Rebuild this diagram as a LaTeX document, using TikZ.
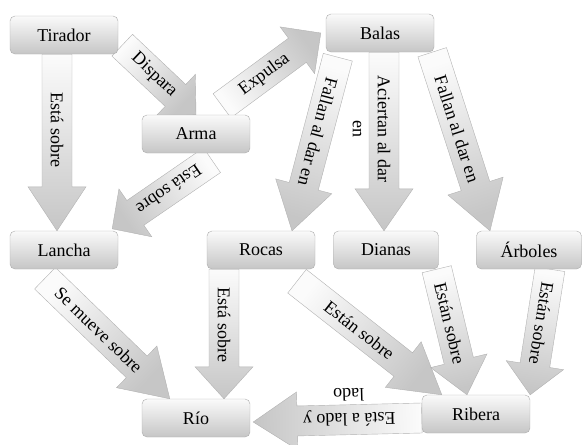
\documentclass[tikz,border=0pt]{standalone}
\usepackage{fontspec}
\setmainfont{Liberation Serif}
\usetikzlibrary{calc,backgrounds}

\tikzset{
  box/.style={rectangle, rounded corners=5pt, draw=gray!65, top color=gray!4, bottom color=gray!45,
    minimum width=108pt, minimum height=38pt, inner sep=0pt, font=\fontsize{18}{20}\selectfont},
  arrowbox/.style={draw=gray!60, top color=gray!3, bottom color=gray!45},
  arrowtext/.style={inner sep=0pt, align=center, font=\fontsize{18}{19}\selectfont},
  twolines/.style={font=\fontsize{18}{25}\selectfont, yshift=-12.5pt}
}
\def\bw{15pt}
\def\hw{29pt}

% [label options]{name}{tail}{tip}{head length}{label}
\newcommand{\blockarrow}[6][]{%
  \path let \p1=($(#4)-(#3)$) in \pgfextra{%
    \pgfmathsetmacro\arrang{atan2(\y1,\x1)}\global\let\arrang\arrang
    \pgfmathsetmacro\arrbody{veclen(\x1,\y1)-#5}\global\let\arrbody\arrbody};
  \pgfmathsetmacro\arrup{\arrang+90}%
  \pgfmathsetmacro\arrdn{\arrang-90}%
  \draw[arrowbox, shading angle=\arrup]
    ($(#3)+(\arrup:\bw)$) -- ($(#3)+(\arrang:\arrbody pt)+(\arrup:\bw)$)
    -- ($(#3)+(\arrang:\arrbody pt)+(\arrup:\hw)$) -- (#4)
    -- ($(#3)+(\arrang:\arrbody pt)+(\arrdn:\hw)$)
    -- ($(#3)+(\arrang:\arrbody pt)+(\arrdn:\bw)$)
    -- ($(#3)+(\arrdn:\bw)$) -- cycle;
  \node[arrowtext, rotate=\arrang, #1] (#2) at ($(#3)!0.43!(#4)$) {#6};
}

\begin{document}
\begin{tikzpicture}[x=1pt, y=-1pt]
\useasboundingbox (0,0) rectangle (582,445);

\node[box] (tir) at (64,35) {Tirador};
\node[box] (arma) at (196,134) {Arma};
\node[box] (bal) at (380,33) {Balas};
\node[box] (lan) at (64,250) {Lancha};
\node[box] (roc) at (261,250) {Rocas};
\node[box, minimum width=105pt] (dia) at (386,250) {Dianas};
\node[box, minimum width=105pt] (arb) at (529,250) {Árboles};
\node[box] (rio) at (196,418) {Río};
\node[box] (rib) at (476,414) {Ribera};

\begin{pgfonlayer}{background}
% block arrows
\blockarrow{tir-lan}{[xshift=-7pt]tir.south}{[xshift=-7pt]lan.north}{44}{Está sobre}
\blockarrow{tir-arma}{[xshift=4pt,yshift=9pt]tir.south east}{arma.north}{28}{Dispara}
\blockarrow{arma-bal}{[xshift=26pt,yshift=9pt]arma.north}{[xshift=-5pt]bal.west}{29}{Expulsa}
\blockarrow{arma-lan}{[xshift=16pt,yshift=-7pt]arma.south}{[xshift=-6pt,yshift=2pt]lan.north east}{28}{Está sobre}
\blockarrow{bal-roc}{[xshift=12pt,yshift=-5pt]bal.south west}{[xshift=31pt]roc.north}{46}{Fallan al dar en}
\blockarrow[twolines]{bal-dia}{[xshift=4pt]bal.south}{[xshift=-2pt]dia.north}{42}{Aciertan al dar\\en}
\blockarrow{bal-arb}{[xshift=-2pt]bal.south east}{[xshift=-39pt]arb.north}{47}{Fallan al dar en}
\blockarrow{lan-rio}{[xshift=-19pt,yshift=-9pt]lan.south}{[xshift=28pt]rio.north west}{46}{Se mueve sobre}
\blockarrow{roc-rio}{[xshift=-37pt]roc.south}{[xshift=28pt]rio.north}{32}{Está sobre}
\blockarrow{roc-rib}{[xshift=36pt,yshift=-12pt]roc.south}{[xshift=20pt]rib.north west}{49}{Están sobre}
\blockarrow{dia-rib}{[xshift=-2pt]dia.south east}{[xshift=-9pt]rib.north}{35}{Están sobre}
\blockarrow{arb-rib}{[xshift=21pt]arb.south}{rib.north east}{30}{Están sobre}
\blockarrow[twolines]{rib-rio}{[yshift=-4pt]rib.west}{[xshift=3pt,yshift=-4pt]rio.east}{44}{Está a lado y\\lado}
\end{pgfonlayer}
\end{tikzpicture}
\end{document}
